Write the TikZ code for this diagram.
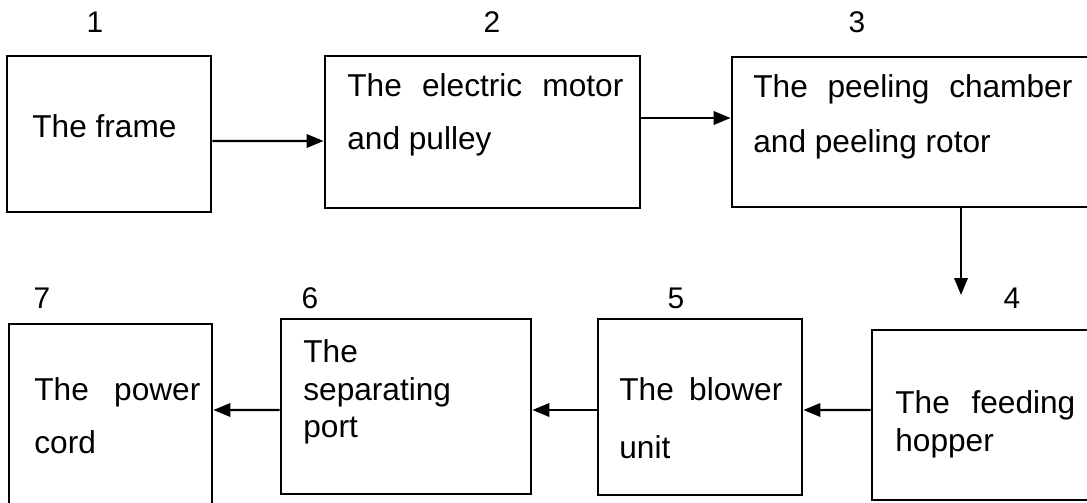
\documentclass[tikz,border=0pt]{standalone}
\usepackage{fontspec}
\setmainfont{Liberation Sans}
\usetikzlibrary{arrows.meta,positioning}
\tikzset{
  partbox/.style={draw=black, line width=1.6pt, minimum width=#1, inner sep=0pt},
  partnum/.style={anchor=base, font=\fontsize{17}{19}\selectfont},
  parttext/.style={anchor=base west, inner sep=0pt, font=\fontsize{18}{20}\selectfont},
  flowarrow/.style={line width=1.2pt, -{Triangle[length=0.34cm,width=0.27cm]}}
}
\begin{document}
\begin{tikzpicture}
  \useasboundingbox (0,0) rectangle (21.74,10.04);
  \clip (0,0) rectangle (21.74,10.04);

  %% Top row
  \node[partbox=4.08cm, minimum height=3.12cm] (frame) at (2.18,7.36) {};
  \node[partbox=6.30cm, minimum height=3.04cm] (motor) at (9.65,7.40) {};
  \node[partbox=7.56cm, minimum height=3.00cm] (chamber) at (18.42,7.40) {};

  \node[partnum] (n1) at (1.90,9.38) {1};
  \node[partnum] (n2) at (9.84,9.38) {2};
  \node[partnum] (n3) at (17.14,9.38) {3};

  \node[parttext] (t1) at (0.64,7.28) {The frame};
  \node[parttext] (t2a) at (6.94,8.10) {\makebox[5.52cm][s]{The electric motor}};
  \node[parttext] (t2b) at (6.94,7.04) {and pulley};
  \node[parttext] (t3a) at (15.06,8.08) {\makebox[6.38cm][s]{The peeling chamber}};
  \node[parttext] (t3b) at (15.06,6.98) {and peeling rotor};

  %% Bottom row
  \node[partbox=4.76cm, minimum height=3.40cm] (hopper) at (19.82,1.74) {};
  \node[partbox=4.08cm, minimum height=3.52cm] (blower) at (14.00,1.90) {};
  \node[partbox=5.00cm, minimum height=3.50cm] (port) at (8.12,1.91) {};
  \node[partbox=4.06cm, minimum height=3.82cm] (cord) at (2.21,1.65) {};

  \node[partnum] (n4) at (20.24,3.88) {4};
  \node[partnum] (n5) at (13.52,3.88) {5};
  \node[partnum] (n6) at (6.20,3.88) {6};
  \node[partnum] (n7) at (0.84,3.88) {7};

  \node[parttext] (t4a) at (17.90,1.78) {\makebox[3.60cm][s]{The feeding}};
  \node[parttext] (t4b) at (17.90,1.02) {hopper};
  \node[parttext] (t5a) at (12.38,2.04) {\makebox[3.26cm][s]{The blower}};
  \node[parttext] (t5b) at (12.38,0.88) {unit};
  \node[parttext] (t6a) at (6.06,2.80) {The};
  \node[parttext] (t6b) at (6.06,2.04) {separating};
  \node[parttext] (t6c) at (6.06,1.30) {port};
  \node[parttext] (t7a) at (0.68,2.04) {\makebox[3.32cm][s]{The power}};
  \node[parttext] (t7b) at (0.68,0.98) {cord};

  %% Connectors
  \coordinate (feedin) at (19.22,4.14);
  \draw[flowarrow] ([yshift=-0.14cm]frame.east) -- ([yshift=-0.18cm]motor.west);
  \draw[flowarrow] ([yshift=0.28cm]motor.east) -- ([yshift=0.28cm]chamber.west);
  \draw[flowarrow] ([xshift=0.80cm]chamber.south) -- (feedin);
  \draw[flowarrow] ([yshift=0.10cm]hopper.west) -- ([yshift=-0.06cm]blower.east);
  \draw[flowarrow] ([yshift=-0.06cm]blower.west) -- ([yshift=-0.07cm]port.east);
  \draw[flowarrow] ([yshift=-0.07cm]port.west) -- ([yshift=0.19cm]cord.east);
\end{tikzpicture}
\end{document}
